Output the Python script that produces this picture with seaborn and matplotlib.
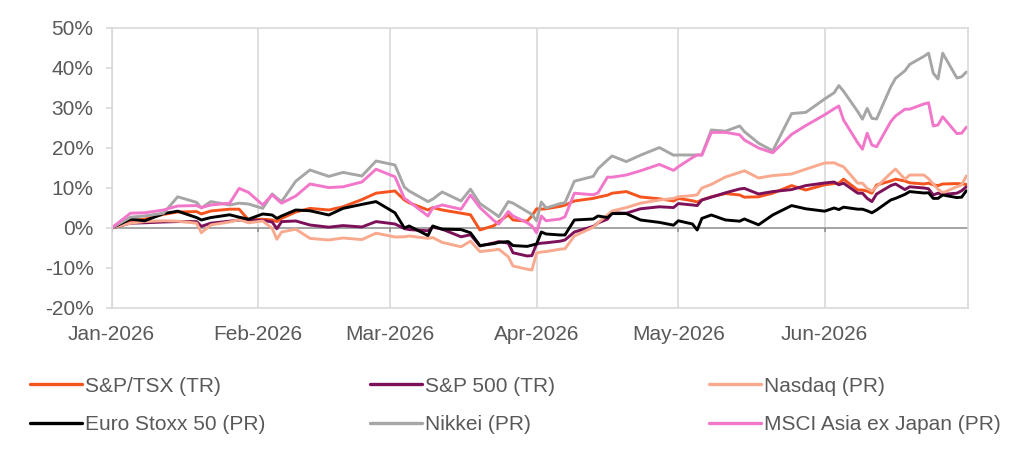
import pandas as pd
import seaborn as sns
from matplotlib import pyplot as plt
import matplotlib.dates as mdates
from matplotlib.lines import Line2D
from matplotlib.ticker import FuncFormatter

dates = ["2026-01-01", "2026-01-05", "2026-01-08", "2026-01-12", "2026-01-15", "2026-01-19", "2026-01-20",
         "2026-01-22", "2026-01-26", "2026-01-28", "2026-01-30",
         "2026-02-02", "2026-02-04", "2026-02-05", "2026-02-06", "2026-02-09", "2026-02-12", "2026-02-16",
         "2026-02-19", "2026-02-23", "2026-02-26",
         "2026-03-02", "2026-03-04", "2026-03-05", "2026-03-09", "2026-03-10", "2026-03-12", "2026-03-16",
         "2026-03-18", "2026-03-20", "2026-03-23", "2026-03-24", "2026-03-26", "2026-03-27", "2026-03-30",
         "2026-03-31",
         "2026-04-01", "2026-04-02", "2026-04-03", "2026-04-06", "2026-04-07", "2026-04-09", "2026-04-13",
         "2026-04-14", "2026-04-16", "2026-04-17", "2026-04-20", "2026-04-23", "2026-04-27", "2026-04-30",
         "2026-05-01", "2026-05-04", "2026-05-05", "2026-05-06", "2026-05-08", "2026-05-11", "2026-05-14",
         "2026-05-15", "2026-05-18", "2026-05-21", "2026-05-25", "2026-05-28",
         "2026-06-01", "2026-06-03", "2026-06-04", "2026-06-05", "2026-06-08", "2026-06-09", "2026-06-10",
         "2026-06-11", "2026-06-12", "2026-06-15", "2026-06-16", "2026-06-18", "2026-06-19", "2026-06-22",
         "2026-06-23", "2026-06-24", "2026-06-25", "2026-06-26", "2026-06-29", "2026-06-30", "2026-07-01"]

# cumulative returns in %
tsx = [0, 1.8, 2.2, 3.4, 4.0, 4.1, 3.5, 4.25, 4.7, 4.7, 2.0,
       2.2, 2.0, 1.6, 2.4, 4.0, 4.9, 4.5, 5.3, 7.1, 8.7,
       9.25, 7.0, 6.3, 4.5, 5.1, 4.5, 3.7, 3.3, -0.5, 0.6, 1.6, 3.25, 2.0, 1.7, 3.0,
       4.8, 4.7, 4.8, 5.4, 5.7, 6.75, 7.4, 7.7, 8.2, 8.7, 9.1, 7.75, 7.3, 6.75,
       7.4, 6.8, 6.5, 7.0, 7.8, 8.6, 8.25, 7.7, 7.8, 8.7, 10.6, 9.5,
       10.8, 11.1, 11.2, 12.2, 9.5, 9.5, 9.2, 8.7, 10.75, 11.75, 12.2, 11.75, 11.3, 11.0, 11.2, 10.8,
       10.6, 11.0, 11.1, 11.0, 10.9]
spx = [0, 1.2, 1.3, 1.5, 1.6, 1.6, 0.4, 1.2, 1.7, 2.0, 2.0,
       1.9, 1.5, -0.2, 1.6, 1.75, 0.75, 0.2, 0.6, 0.25, 1.6,
       1.0, -0.15, -0.4, -0.7, 0.2, -0.3, -2.2, -1.7, -4.5, -3.7, -3.4, -3.8, -6.2, -7.0, -6.9,
       -4.0, -3.8, -3.7, -3.3, -3.0, -1.0, 0.4, 1.25, 2.2, 3.8, 3.7, 4.8, 5.3, 5.1,
       6.1, 5.75, 5.6, 7.0, 7.7, 8.8, 9.75, 9.9, 8.5, 9.1, 9.6, 10.6,
       11.25, 11.5, 10.8, 11.2, 8.7, 8.7, 7.4, 6.6, 8.5, 10.6, 11.0, 9.6, 10.3, 10.0, 9.8, 8.25,
       8.7, 8.4, 8.7, 9.3, 10.3]
nasdaq = [0, 1.2, 1.6, 1.8, 1.7, 1.2, -1.2, 0.75, 1.5, 2.1, 1.3,
          1.75, -0.1, -2.8, -1.0, -0.3, -2.6, -3.0, -2.5, -2.9, -1.3,
          -2.25, -2.2, -2.0, -2.6, -2.4, -3.6, -4.7, -3.3, -5.9, -5.5, -5.3, -7.2, -9.5, -10.3, -10.5,
          -6.3, -6.0, -5.9, -5.3, -5.2, -2.0, 0.2, 1.3, 3.25, 4.25, 5.1, 6.2, 7.0, 7.4,
          7.8, 8.1, 8.3, 10.0, 10.9, 12.75, 13.9, 14.3, 12.5, 13.1, 13.5, 14.7,
          16.25, 16.3, 15.75, 15.3, 11.2, 11.2, 9.9, 9.25, 10.3, 13.7, 14.75, 12.2, 13.25, 13.25, 12.3, 11.0,
          9.7, 8.8, 10.3, 10.75, 13.0]
stoxx = [0, 2.2, 1.8, 3.6, 4.2, 2.6, 2.0, 2.6, 3.3, 2.7, 2.2,
         3.5, 3.25, 2.4, 3.0, 4.5, 4.3, 3.25, 4.9, 5.9, 6.6,
         3.8, 0.0, 0.5, -1.9, 0.5, -0.3, -0.4, -1.2, -4.4, -3.9, -3.6, -3.4, -4.4, -4.6, -4.3,
         -4.0, -1.0, -1.5, -1.75, -1.75, 2.0, 2.25, 3.0, 2.6, 3.6, 3.6, 2.0, 1.4, 0.7,
         1.8, 1.0, -0.5, 2.4, 3.25, 2.0, 1.7, 2.25, 0.8, 3.25, 5.6, 4.8,
         4.2, 5.0, 4.6, 5.2, 4.7, 4.7, 4.3, 3.8, 4.5, 7.0, 7.4, 8.4, 9.1, 8.75, 8.8, 7.4,
         7.4, 8.25, 7.6, 7.7, 9.3]
nikkei = [0, 2.7, 3.0, 3.7, 7.8, 6.4, 5.0, 6.6, 5.75, 6.2, 6.0,
          4.9, 8.5, 7.5, 6.6, 11.7, 14.5, 12.9, 13.9, 13.0, 16.75,
          15.75, 10.2, 9.25, 6.6, 7.2, 9.0, 6.75, 9.7, 6.1, 3.7, 2.8, 6.6, 6.2, 4.1, 3.4,
          1.8, 6.5, 5.0, 6.1, 6.3, 11.7, 12.9, 14.8, 17.0, 18.0, 16.6, 18.2, 20.1, 18.2,
          18.25, 18.25, 18.25, 18.25, 24.5, 24.2, 25.5, 24.1, 21.2, 19.3, 28.6, 28.9,
          32.25, 33.8, 35.6, 34.2, 29.1, 27.2, 29.9, 27.4, 27.25, 35.3, 37.4, 39.3, 40.9, 42.9, 43.7, 38.7,
          37.25, 43.7, 37.5, 37.8, 39.0]
msci_axj = [0, 3.7, 3.8, 4.5, 5.5, 5.6, 5.1, 5.75, 6.2, 9.9, 8.9,
            5.75, 8.3, 7.2, 6.2, 8.0, 11.0, 10.1, 10.3, 11.5, 14.7,
            12.8, 7.4, 6.6, 3.0, 5.0, 5.75, 4.7, 8.25, 5.1, 1.8, 1.0, 4.1, 3.0, 1.3, 0.5,
            -1.2, 3.0, 1.8, 2.25, 2.8, 8.7, 8.3, 8.8, 12.7, 12.7, 13.25, 14.3, 15.9, 14.4,
            15.3, 17.6, 18.25, 18.25, 23.9, 23.9, 23.3, 22.0, 20.0, 18.8, 23.4, 25.6,
            28.3, 29.8, 30.5, 27.0, 21.3, 19.7, 23.7, 20.75, 20.3, 26.6, 28.0, 29.7, 29.7, 31.0, 31.3, 25.5,
            25.75, 27.8, 23.6, 23.7, 25.2]

names = ["S&P/TSX (TR)", "S&P 500 (TR)", "Nasdaq (PR)",
         "Euro Stoxx 50 (PR)", "Nikkei (PR)", "MSCI Asia ex Japan (PR)"]
colors = ["#F5541F", "#7D1159", "#F8A98E", "#000000", "#A6A6A6", "#F276CA"]

df = pd.DataFrame({"date": pd.to_datetime(dates), names[0]: tsx, names[1]: spx, names[2]: nasdaq,
                   names[3]: stoxx, names[4]: nikkei, names[5]: msci_axj})
long_df = df.melt(id_vars="date", var_name="index", value_name="ret")

sns.set_style("white")
plt.rcParams["font.family"] = ["Liberation Sans", "DejaVu Sans"]
text_col = "#595959"
grid_col = "#D9D9D9"
fsize = 15

fig = plt.figure(figsize=(10.24, 4.5), dpi=100)
ax = fig.add_axes([0.109, 0.3156, 0.8366, 0.6222])

sns.lineplot(data=long_df, x="date", y="ret", hue="index", hue_order=names,
             palette=dict(zip(names, colors)), linewidth=2.1, legend=False, ax=ax)

month_ticks = pd.date_range("2026-01-01", "2026-06-01", freq="MS")
ax.set_xlim(pd.Timestamp("2026-01-01"), pd.Timestamp("2026-07-01 10:00"))
ax.set_ylim(-20, 50)
ax.set_xticks(month_ticks)
ax.xaxis.set_major_formatter(mdates.DateFormatter("%b-%Y"))
ax.set_yticks(range(-20, 51, 10))
ax.yaxis.set_major_formatter(FuncFormatter(lambda v, p: f"{v:.0f}%"))
ax.set_xlabel("")
ax.set_ylabel("")

ax.grid(axis="x", color=grid_col, linewidth=1.2)
ax.grid(axis="y", visible=False)
ax.set_axisbelow(True)
for s in ax.spines.values():
    s.set_color(grid_col)
    s.set_linewidth(1.2)

# zero axis line with month tick marks
ax.axhline(0, color="#8C8C8C", linewidth=1.1, zorder=1)
ax.vlines(month_ticks, -1.1, 0, color="#8C8C8C", linewidth=1.1, zorder=1)

ax.tick_params(axis="x", length=0, pad=12, labelsize=fsize, labelcolor=text_col)
ax.tick_params(axis="y", direction="out", length=4, width=1.2, color=grid_col, pad=9,
               labelsize=fsize, labelcolor=text_col, left=True)

# legend: three columns of two rows
handles = [Line2D([0], [0], color=c, linewidth=2.4) for c in colors]
col_x = [30, 370, 709]
for i, x in enumerate(col_x):
    fig.legend([handles[i], handles[i + 3]], [names[i], names[i + 3]],
               loc="upper left", bbox_to_anchor=(x / 1024, 0.163), frameon=False,
               borderpad=0, borderaxespad=0, handlelength=2.5, handletextpad=0.15,
               labelspacing=0.95, fontsize=fsize, labelcolor=text_col)

fig.savefig("out.png", dpi=100)
